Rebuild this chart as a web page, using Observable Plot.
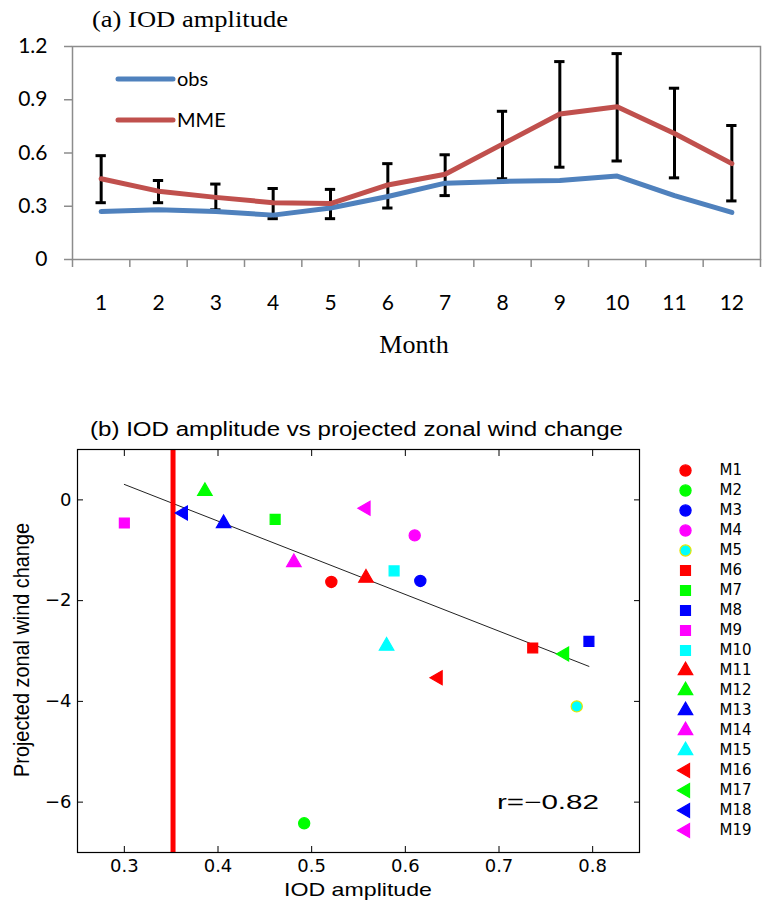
<!DOCTYPE html>
<html>
<head>
<meta charset="utf-8">
<script src="https://cdn.jsdelivr.net/npm/d3@7"></script>
<script src="https://cdn.jsdelivr.net/npm/@observablehq/plot@0.6"></script>
<style>
  body { margin: 0; background: #fff; }
  #wrap { position: relative; width: 765px; height: 902px; overflow: hidden; background: #fff; }
  .abs { position: absolute; }
  #ov text { fill: #000; }
</style>
</head>
<body>
<div id="wrap">
  <div id="pa" class="abs" style="left:0;top:0"></div>
  <div id="pb" class="abs" style="left:0;top:380px"></div>
  <div id="lg" class="abs" style="left:645px;top:430px"></div>
  <svg id="ov" class="abs" style="left:0;top:0;pointer-events:none" width="765" height="902">
    <text x="92" y="27" font-family="Liberation Serif" font-size="24" textLength="196" lengthAdjust="spacingAndGlyphs">(a) IOD amplitude</text>
    <line x1="118" x2="173" y1="79" y2="79" stroke="#4F81BD" stroke-width="5" stroke-linecap="round"/>
    <text x="177" y="86" font-family="Lato" font-size="20">obs</text>
    <line x1="118" x2="173" y1="120" y2="120" stroke="#C0504D" stroke-width="5" stroke-linecap="round"/>
    <text x="177" y="127" font-family="Lato" font-size="20">MME</text>
    <text x="414" y="353" text-anchor="middle" font-family="Liberation Serif" font-size="26">Month</text>
    <text x="90" y="436" font-family="Liberation Sans" font-size="20" textLength="533" lengthAdjust="spacingAndGlyphs">(b) IOD amplitude vs projected zonal wind change</text>
    <text x="358" y="896" text-anchor="middle" font-family="Liberation Sans" font-size="19" textLength="148" lengthAdjust="spacingAndGlyphs">IOD amplitude</text>
    <text transform="translate(28.5,650) scale(1.2,1) rotate(-90)" text-anchor="middle" font-family="Liberation Sans" font-size="18" textLength="254" lengthAdjust="spacingAndGlyphs">Projected zonal wind change</text>
    <text x="599" y="809" text-anchor="end" font-family="Liberation Sans" font-size="20" textLength="102" lengthAdjust="spacingAndGlyphs">r=−0.82</text>
  </svg>
</div>
<script>
// ---------- Panel (a) data ----------
const months   = [1, 2, 3, 4, 5, 6, 7, 8, 9, 10, 11, 12];
const obsAmp   = [0.27, 0.28, 0.27, 0.25, 0.29, 0.355, 0.43, 0.44, 0.445, 0.47, 0.36, 0.265];
const mmeAmp   = [0.455, 0.385, 0.35, 0.32, 0.315, 0.42, 0.48, 0.65, 0.82, 0.86, 0.71, 0.54];
const mmeLow   = [0.32, 0.32, 0.28, 0.23, 0.23, 0.29, 0.36, 0.455, 0.52, 0.555, 0.46, 0.33];
const mmeHigh  = [0.585, 0.445, 0.425, 0.40, 0.395, 0.54, 0.59, 0.835, 1.115, 1.16, 0.965, 0.755];
const yTicksA  = [0, 0.3, 0.6, 0.9, 1.2];

// ---------- Panel (b) data ----------
const models     = ["M1","M2","M3","M4","M5","M6","M7","M8","M9","M10","M11","M12","M13","M14","M15","M16","M17","M18","M19"];
const iodAmp     = [0.521, 0.492, 0.616, 0.610, 0.783, 0.736, 0.461, 0.796, 0.300, 0.588, 0.558, 0.386, 0.406, 0.481, 0.580, 0.635, 0.770, 0.363, 0.558];
const windChange = [-1.63, -6.42, -1.61, -0.705, -4.10, -2.94, -0.386, -2.81, -0.46, -1.41, -1.55, 0.17, -0.466, -1.24, -2.90, -3.53, -3.06, -0.26, -0.167];
const obsIOD     = 0.352;           // observed amplitude (red vertical line)
const fitExclude = ["M2"];          // outlier left out of the regression
const xTicksB    = [0.3, 0.4, 0.5, 0.6, 0.7, 0.8];
const yTicksB    = [-6, -4, -2, 0];

// ---------- styles ----------
const palette = ["#ff0000", "#00ff00", "#0000ff", "#ff00ff", "#00ffff"];
const sqrt3 = Math.sqrt(3);
const triangleLeft = {
  draw(context, size) {
    const y = -Math.sqrt(size / (sqrt3 * 3));
    context.moveTo(y * 2, 0);
    context.lineTo(-y, -sqrt3 * y);
    context.lineTo(-y, sqrt3 * y);
    context.closePath();
  }
};
const shapes = [
  {name: "circle", symbol: "circle", r: 5.6},
  {name: "square", symbol: "square", r: 5.6},
  {name: "triangle", symbol: "triangle", r: 5.4},
  {name: "triangleLeft", symbol: triangleLeft, r: 5.2}
];

// ---------- Panel (a) ----------
const rowsA = months.map((m, i) => ({month: m, obs: obsAmp[i], mme: mmeAmp[i], lo: mmeLow[i], hi: mmeHigh[i]}));
const monthEdges = d3.range(0.5, months.length + 1, 1);
const capHalf = 0.09;
const gridGray = "#8c8c8c";

const plotA = Plot.plot({
  width: 765, height: 370,
  marginLeft: 72, marginRight: 5, marginTop: 46, marginBottom: 111,
  style: {fontFamily: "Lato", fontSize: "21px", color: "black", background: "transparent"},
  x: {domain: [0.5, 12.5], label: null},
  y: {domain: [0, 1.2], label: null},
  marks: [
    Plot.frame({stroke: gridGray, strokeWidth: 1.5}),
    Plot.axisY({ticks: yTicksA, tickSize: 8, stroke: gridGray, strokeWidth: 1.5, tickFormat: () => "", label: null}),
    Plot.axisY({ticks: yTicksA, tickSize: 0, tickPadding: 25, tickFormat: d => String(d), label: null, fill: "black"}),
    Plot.axisX({ticks: monthEdges, tickSize: 8, stroke: gridGray, strokeWidth: 1.5, tickFormat: () => "", label: null}),
    Plot.axisX({ticks: months, tickSize: 0, tickPadding: 36, tickFormat: d => String(d), label: null, fill: "black"}),
    Plot.ruleX(rowsA, {x: "month", y1: "lo", y2: "hi", stroke: "black", strokeWidth: 3}),
    Plot.ruleY(rowsA, {y: "hi", x1: d => d.month - capHalf, x2: d => d.month + capHalf, stroke: "black", strokeWidth: 3}),
    Plot.ruleY(rowsA, {y: "lo", x1: d => d.month - capHalf, x2: d => d.month + capHalf, stroke: "black", strokeWidth: 3}),
    Plot.line(rowsA, {x: "month", y: "obs", stroke: "#4F81BD", strokeWidth: 5, strokeLinecap: "round", strokeLinejoin: "round"}),
    Plot.line(rowsA, {x: "month", y: "mme", stroke: "#C0504D", strokeWidth: 5, strokeLinecap: "round", strokeLinejoin: "round"})
  ]
});
document.getElementById("pa").appendChild(plotA);

// ---------- Panel (b) ----------
const rowsB = models.map((m, i) => ({
  model: m, amp: iodAmp[i], wind: windChange[i],
  shape: shapes[Math.floor(i / palette.length)].name,
  color: palette[i % palette.length]
}));
const fitRows = rowsB.filter(d => !fitExclude.includes(d.model));
const edgeColor = d => d.model === "M5" ? "#e6e600" : d.color;

function dotMarks(extra) {
  return shapes.map(s => Plot.dot(rowsB.filter(d => d.shape === s.name), {
    symbol: s.symbol, r: s.r, fill: d => d.color, stroke: edgeColor, strokeWidth: 1.2, ...extra
  }));
}

const fmt = d3.format("");
const plotB = Plot.plot({
  width: 765, height: 522,
  marginLeft: 77, marginRight: 126, marginTop: 69, marginBottom: 50,
  style: {fontFamily: "DejaVu Sans", fontSize: "18px", color: "black", background: "transparent"},
  x: {domain: [0.25, 0.85], label: null},
  y: {domain: [-7, 1], label: null},
  color: {type: "identity"},
  marks: [
    Plot.linearRegressionY(fitRows, {x: "amp", y: "wind", ci: 0, stroke: "#222", strokeWidth: 1}),
    Plot.ruleX([obsIOD], {stroke: "#ff0000", strokeWidth: 5}),
    ...dotMarks({x: "amp", y: "wind"}),
    Plot.frame({stroke: "black", strokeWidth: 1.2}),
    Plot.axisX({ticks: xTicksB, tickSize: 0, tickPadding: 7, tickFormat: fmt, label: null, fill: "black"}),
    Plot.axisX({ticks: xTicksB, anchor: "bottom", tickSize: -6, tickFormat: () => "", label: null}),
    Plot.axisX({ticks: xTicksB, anchor: "top", tickSize: -6, tickFormat: () => "", label: null}),
    Plot.axisY({ticks: yTicksB, tickSize: 0, tickPadding: 6, tickFormat: fmt, label: null, fill: "black"}),
    Plot.axisY({ticks: yTicksB, anchor: "left", tickSize: -6, tickFormat: () => "", label: null}),
    Plot.axisY({ticks: yTicksB, anchor: "right", tickSize: -6, tickFormat: () => "", label: null})
  ]
});
document.getElementById("pb").appendChild(plotB);

// ---------- Legend (b) ----------
const legend = Plot.plot({
  width: 120, height: 440, margin: 0,
  style: {fontFamily: "DejaVu Sans", fontSize: "15px", color: "black", background: "transparent"},
  y: {type: "point", domain: models, range: [25, 415], axis: null},
  color: {type: "identity"},
  marks: [
    ...dotMarks({y: "model", frameAnchor: "left", dx: 40}),
    Plot.text(rowsB, {y: "model", text: "model", frameAnchor: "left", dx: 74, textAnchor: "start", fill: "black"})
  ]
});
document.getElementById("lg").appendChild(legend);
</script>
</body>
</html>
